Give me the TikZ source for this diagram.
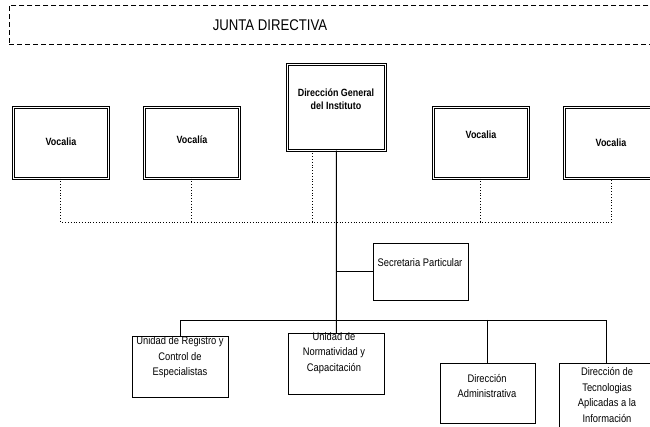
\documentclass[tikz,border=0pt]{standalone}
\usepackage{fontspec}
\setmainfont{Liberation Sans}[FakeStretch=0.85]
\usepackage{tikz}
\usetikzlibrary{positioning}

\begin{document}
\begin{tikzpicture}[x=1pt, y=-1pt,
  topbox/.style={draw, double, double distance=1.2pt, line width=0.7pt, anchor=north west, inner sep=0pt},
  lowbox/.style={draw, line width=0.8pt, anchor=north west, inner sep=0pt},
  toptext/.style={font=\fontsize{10.5}{13}\selectfont\bfseries, align=center},
  lowtext/.style={font=\fontsize{11}{15.5}\selectfont, align=center},
  dotline/.style={dotted, line width=0.8pt},
  orgline/.style={line width=0.9pt}]
\useasboundingbox (0,0) rectangle (650,427);
\clip (0,0) rectangle (650,427);

% board frame
\node[draw, dashed, dash pattern=on 5pt off 3pt, line width=0.8pt, anchor=north west,
      minimum width=660pt, minimum height=39pt] (junta) at (9,5) {};
\node[font=\fontsize{15.5}{18}\selectfont] (juntat) at (270,25) {JUNTA DIRECTIVA};

% direction and board members
\node[topbox, minimum width=98pt, minimum height=86pt] (dg) at (287,64) {};
\node[toptext] (dgt) at (336,99) {Dirección General\\del Instituto};
\node[topbox, minimum width=95pt, minimum height=71pt] (v1) at (13,107) {};
\node[topbox, minimum width=95pt, minimum height=71pt] (v2) at (144,107) {};
\node[topbox, minimum width=95pt, minimum height=71pt] (v3) at (433,107) {};
\node[topbox, minimum width=95pt, minimum height=71pt] (v4) at (564,107) {};
\node[toptext] (v1t) at (61,142) {Vocalia};
\node[toptext] (v2t) at (192,140) {Vocalía};
\node[toptext] (v3t) at (481,135) {Vocalia};
\node[toptext] (v4t) at (611,143) {Vocalia};

% dotted links of the board
\coordinate (vbus) at (0,222);
\draw[dotline] (v1.south) -- (v1.south |- vbus) -- (v4.south |- vbus) -- (v4.south);
\foreach \v in {v2,v3}{
  \draw[dotline] (\v.south) -- (\v.south |- vbus);
}
\draw[dotline] ([xshift=-24pt]dg.south) -- ([xshift=-24pt]dg.south |- vbus);

% units
\node[lowbox, minimum width=95pt, minimum height=57pt] (sec) at (373,243) {};
\node[lowtext] (sect) at (420,263) {Secretaria Particular};
\node[lowbox, minimum width=96pt, minimum height=61pt] (u1) at (132,336) {};
\node[lowtext] (u1t) at (180,357.5) {Unidad de Registro y\\Control de\\Especialistas};
\node[lowbox, minimum width=96pt, minimum height=61pt] (u2) at (288,333) {};
\node[lowtext] (u2t) at (334,353) {Unidad de\\Normatividad y\\Capacitación};
\node[lowbox, minimum width=95pt, minimum height=60pt] (d1) at (440,363) {};
\node[lowtext] (d1t) at (487,386) {Dirección\\Administrativa};
\node[lowbox, minimum width=94pt, minimum height=80pt] (d2) at (559,363) {};
\node[lowtext] (d2t) at (607,395) {Dirección de\\Tecnologias\\Aplicadas a la\\Información};

% solid links
\draw[orgline] (dg.south) -- (u2.north);
\draw[orgline] (dg.south |- sec.west) -- (sec.west);
\coordinate (lbus) at (0,320);
\draw[orgline] (u1.north) -- (u1.north |- lbus) -- (d2.north |- lbus) -- (d2.north);
\draw[orgline] (d1.north |- lbus) -- (d1.north);
\end{tikzpicture}
\end{document}
